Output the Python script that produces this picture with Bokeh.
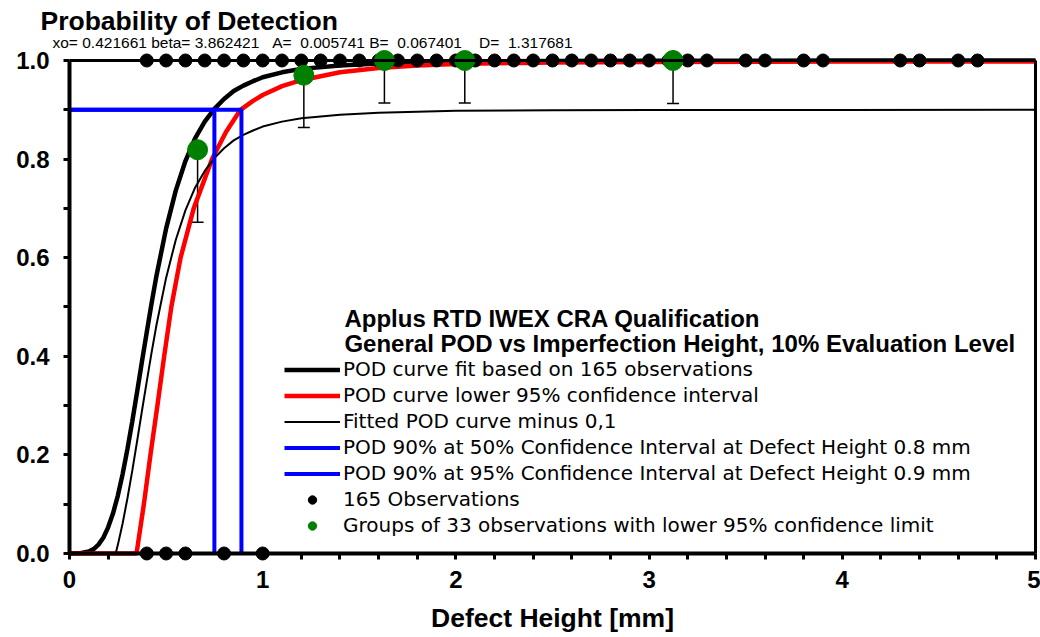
from bokeh.plotting import figure
from bokeh.models import (Range1d, LinearAxis, FixedTicker, NumeralTickFormatter, Legend,
                          LegendItem, Whisker, TeeHead, ColumnDataSource, Label)
from bokeh.embed import file_html
from bokeh.resources import INLINE

# ---------------- data ----------------
pod_x = [0, 0.05, 0.1, 0.125, 0.15, 0.175, 0.2, 0.225, 0.25, 0.275, 0.3, 0.325, 0.35, 0.375,
         0.4, 0.425, 0.45, 0.5, 0.55, 0.6, 0.65, 0.7, 0.75, 0.8, 0.85, 0.9, 0.95, 1.0, 1.1,
         1.2, 1.4, 1.6, 1.8, 2.0, 2.5, 3.0, 4.0, 5.0]
pod_y = [0, 0.0003, 0.004, 0.009, 0.018, 0.032, 0.053, 0.081, 0.117, 0.161, 0.212, 0.268, 0.328, 0.389,
         0.449, 0.508, 0.563, 0.659, 0.736, 0.796, 0.842, 0.876, 0.902, 0.922, 0.938, 0.949, 0.958, 0.966, 0.976,
         0.983, 0.990, 0.994, 0.996, 0.998, 0.999, 0.9995, 0.9998, 0.9999]

thin_x = [0.239, 0.25, 0.275, 0.3, 0.325, 0.35, 0.375, 0.4, 0.425, 0.45, 0.5, 0.55, 0.6, 0.65, 0.7,
          0.75, 0.8, 0.85, 0.9, 0.95, 1.0, 1.1, 1.2, 1.4, 1.6, 1.8, 2.0, 2.5, 3.0, 4.0, 5.0]
thin_y = [0, 0.017, 0.061, 0.112, 0.168, 0.228, 0.289, 0.349, 0.408, 0.463, 0.559, 0.636, 0.696, 0.742, 0.776,
          0.802, 0.822, 0.838, 0.849, 0.858, 0.866, 0.876, 0.883, 0.890, 0.894, 0.896, 0.898, 0.899, 0.8995, 0.8998, 0.8999]

red_x = [0, 0.347, 0.385, 0.419, 0.455, 0.49, 0.527, 0.575, 0.643, 0.738, 0.81, 0.885, 0.95, 1.0,
         1.1, 1.2, 1.4, 1.6, 1.8, 2.0, 2.5, 3.0, 4.0, 5.0]
red_y = [0, 0, 0.1, 0.2, 0.3, 0.4, 0.5, 0.6, 0.7, 0.8, 0.855, 0.9, 0.918, 0.93,
         0.948, 0.96, 0.976, 0.985, 0.99, 0.993, 0.996, 0.997, 0.998, 0.998]

blue50_x = [0, 0.75, 0.75]
blue50_y = [0.9, 0.9, 0]
blue95_x = [0, 0.89, 0.89]
blue95_y = [0.9, 0.9, 0]

obs_hit_x = [0.4, 0.5, 0.6, 0.7, 0.8, 0.9, 1.0, 1.1, 1.2, 1.3, 1.4, 1.5, 1.6, 1.7, 1.8, 1.9, 2.0,
             2.1, 2.2, 2.3, 2.4, 2.5, 2.6, 2.7, 2.8, 2.9, 3.0, 3.1, 3.2, 3.3, 3.5, 3.6, 3.8, 3.9,
             4.3, 4.4, 4.6, 4.7]
obs_miss_x = [0.4, 0.5, 0.6, 0.8, 1.0]
obs_x = obs_hit_x + obs_miss_x
obs_y = [1.0] * len(obs_hit_x) + [0.0] * len(obs_miss_x)

grp_x = [0.663, 1.213, 1.63, 2.046, 3.124]
grp_y = [0.819, 0.970, 1.0, 1.0, 1.0]
grp_low = [0.672, 0.864, 0.914, 0.914, 0.913]

y_ticks = [0, 0.2, 0.4, 0.6, 0.8, 1.0]
y_minor = [0.1, 0.3, 0.5, 0.7, 0.9]
x_ticks = [0, 1, 2, 3, 4, 5]
x_minor = [0.2, 0.4, 0.6, 0.8, 1.2, 1.4, 1.6, 1.8, 2.2, 2.4, 2.6, 2.8, 3.2, 3.4, 3.6, 3.8,
           4.2, 4.4, 4.6, 4.8]

title_text = "Probability of Detection"
params_text = ("xo= 0.421661 beta= 3.862421\u00a0\u00a0\u00a0A=\u00a0\u00a00.005741 B=\u00a0\u00a00.067401"
               "\u00a0\u00a0\u00a0\u00a0D=\u00a0\u00a01.317681")
heading_lines = ["Applus RTD IWEX CRA Qualification",
                 "General POD vs Imperfection Height, 10% Evaluation Level"]
legend_labels = [
    "POD curve fit based on 165 observations",
    "POD curve lower 95% confidence interval",
    "Fitted POD curve minus 0,1",
    "POD 90% at 50% Confidence Interval at Defect Height 0.8 mm",
    "POD 90% at 95% Confidence Interval at Defect Height 0.9 mm",
    "165 Observations",
    "Groups of 33 observations with lower 95% confidence limit",
]

ARIAL = "Liberation Sans"

# The frame covers the whole canvas; the axes are pinned at the data edges (0..5, 0..1)
p = figure(width=1040, height=637, output_backend="svg", toolbar_location=None,
           x_range=Range1d(-0.3571, 5.0259), y_range=Range1d(-0.1704, 1.1217),
           min_border_left=0, min_border_right=0, min_border_top=0, min_border_bottom=0)
p.xgrid.visible = False
p.ygrid.visible = False
p.outline_line_color = None
p.background_fill_color = "white"
p.border_fill_color = "white"


def style_axis(ax):
    ax.major_tick_in = 0
    ax.major_tick_out = 6
    ax.minor_tick_in = 0
    ax.minor_tick_out = 6
    ax.major_tick_line_width = 3
    ax.minor_tick_line_width = 3
    ax.major_tick_line_color = "black"
    ax.minor_tick_line_color = "black"
    ax.axis_line_color = "black"
    ax.major_label_text_font = ARIAL
    ax.major_label_text_font_style = "bold"
    ax.major_label_text_font_size = "24px"
    ax.major_label_text_color = "black"


xa = p.xaxis[0]
style_axis(xa)
xa.fixed_location = 0
xa.bounds = (0, 5)
xa.ticker = FixedTicker(ticks=x_ticks, minor_ticks=x_minor)
xa.axis_line_width = 4
xa.major_label_standoff = 12
xa.axis_label = "Defect Height [mm]"
xa.axis_label_text_font = ARIAL
xa.axis_label_text_font_style = "bold"
xa.axis_label_text_font_size = "26.5px"
xa.axis_label_text_color = "black"
xa.axis_label_standoff = 11

ya = p.yaxis[0]
style_axis(ya)
ya.fixed_location = 0
ya.bounds = (0, 1)
ya.ticker = FixedTicker(ticks=y_ticks, minor_ticks=y_minor)
ya.formatter = NumeralTickFormatter(format="0.0")
ya.axis_line_width = 4
ya.major_label_standoff = 14

# right and top frame lines (axes without ticks or labels)
ra = LinearAxis(fixed_location=5.0, bounds=(0, 1), axis_line_width=3, axis_line_color="black",
                ticker=FixedTicker(ticks=[], minor_ticks=[]),
                major_tick_line_color=None, minor_tick_line_color=None,
                major_label_standoff=0, major_tick_out=0, minor_tick_out=0)
p.add_layout(ra, "right")
ta = LinearAxis(fixed_location=1.0, bounds=(0, 5), axis_line_width=3, axis_line_color="black",
                ticker=FixedTicker(ticks=[], minor_ticks=[]),
                major_tick_line_color=None, minor_tick_line_color=None,
                major_label_standoff=0, major_tick_out=0, minor_tick_out=0)
p.add_layout(ta, "above")

# curves
r_pod = p.line(pod_x, pod_y, line_width=4.5, line_color="black")
r_red = p.line(red_x, red_y, line_width=4.5, line_color="#ff0000")
r_thin = p.line(thin_x, thin_y, line_width=2, line_color="black")
r_b50 = p.line(blue50_x, blue50_y, line_width=4, line_color="#0000ff")
r_b95 = p.line(blue95_x, blue95_y, line_width=4, line_color="#0000ff")

wsrc = ColumnDataSource(dict(base=grp_x, lower=grp_low, upper=grp_y))
wh = Whisker(source=wsrc, base="base", lower="lower", upper="upper", dimension="height",
             line_color="black", line_width=1.5, upper_head=None,
             lower_head=TeeHead(size=12, line_width=1.5, line_color="black"))
p.add_layout(wh)

r_obs = p.scatter(obs_x, obs_y, size=13, fill_color="black", line_color="black")
r_grp = p.scatter(grp_x, grp_y, size=20, fill_color="#008000", line_color="#008000")

items = [LegendItem(label=lab, renderers=[r]) for lab, r in
         zip(legend_labels, [r_pod, r_red, r_thin, r_b50, r_b95, r_obs, r_grp])]
legend = Legend(items=items, location=(284, 100), glyph_width=56, glyph_height=21,
                label_height=21, spacing=2, padding=0, margin=0, label_standoff=3,
                border_line_color=None, background_fill_alpha=0,
                label_text_font="DejaVu Sans", label_text_font_size="20px",
                label_text_color="black")
p.add_layout(legend)

# texts
p.add_layout(Label(x=-0.150, y=1.0811, text=title_text, text_font=ARIAL, text_color="black",
                   text_font_style="bold", text_font_size="26.5px", text_baseline="middle"))
p.add_layout(Label(x=-0.088, y=1.0365, text=params_text, text_font=ARIAL, text_color="black",
                   text_font_size="15.5px", text_baseline="middle"))
p.add_layout(Label(x=1.423, y=0.476, text=heading_lines[0], text_font=ARIAL, text_color="black",
                   text_font_style="bold", text_font_size="24px", text_baseline="middle"))
p.add_layout(Label(x=1.423, y=0.426, text=heading_lines[1], text_font=ARIAL, text_color="black",
                   text_font_style="bold", text_font_size="24px", text_baseline="middle"))

open("out.html", "w").write(file_html(p, INLINE))
